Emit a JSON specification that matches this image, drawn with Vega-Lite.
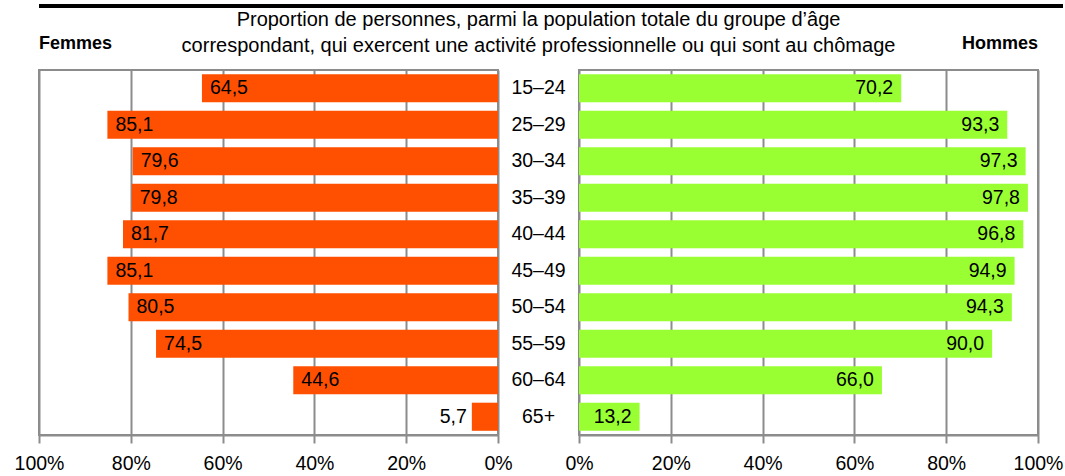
{
  "$schema": "https://vega.github.io/schema/vega-lite/v6.json",
  "padding": {"left": 13, "top": -4, "right": 0, "bottom": 0},
  "config": {
    "font": "Liberation Sans",
    "locale": {"number": {"decimal": ",", "thousands": " ", "grouping": [3], "currency": ["", ""]}},
    "view": {"stroke": "#8c8c8c", "strokeWidth": 2},
    "axisX": {
      "grid": true, "gridColor": "#8c8c8c", "gridWidth": 2, "gridOpacity": 1,
      "domainColor": "#8c8c8c", "domainWidth": 2,
      "tickColor": "#8c8c8c", "tickWidth": 2, "tickSize": 8,
      "labelFontSize": 19.5, "labelColor": "black", "labelPadding": 11,
      "labelFlush": false, "title": null
    },
    "text": {"fontSize": 19.5, "color": "black"}
  },
  "datasets": {
    "d": [
      {"age": "15–24", "femmes": 64.5, "hommes": 70.2},
      {"age": "25–29", "femmes": 85.1, "hommes": 93.3},
      {"age": "30–34", "femmes": 79.6, "hommes": 97.3},
      {"age": "35–39", "femmes": 79.8, "hommes": 97.8},
      {"age": "40–44", "femmes": 81.7, "hommes": 96.8},
      {"age": "45–49", "femmes": 85.1, "hommes": 94.9},
      {"age": "50–54", "femmes": 80.5, "hommes": 94.3},
      {"age": "55–59", "femmes": 74.5, "hommes": 90.0},
      {"age": "60–64", "femmes": 44.6, "hommes": 66.0},
      {"age": "65+", "femmes": 5.7, "hommes": 13.2}
    ]
  },
  "spacing": -6,
  "vconcat": [
    {
      "width": 1024,
      "height": 0,
      "view": {"stroke": null},
      "data": {"values": [{"line": "top"}]},
      "mark": {"type": "rule", "color": "black", "strokeWidth": 4},
      "encoding": {
        "x": {"datum": 0, "type": "quantitative", "scale": {"domain": [0, 1]}, "axis": null},
        "x2": {"datum": 1}
      }
    },
    {
      "bounds": "flush",
      "spacing": 0,
      "data": {"name": "d"},
      "hconcat": [
        {
          "width": 459,
          "height": 365,
          "title": {"text": "Femmes", "anchor": "start", "frame": "group", "fontSize": 18, "fontWeight": "bold", "offset": 17, "color": "black"},
          "encoding": {
            "y": {"field": "age", "type": "nominal", "sort": null, "axis": null, "scale": {"paddingInner": 0.23, "paddingOuter": 0.115}},
            "x": {
              "field": "femmes", "type": "quantitative",
              "scale": {"domain": [0, 100], "reverse": true, "nice": false},
              "axis": {"values": [0, 20, 40, 60, 80, 100], "labelExpr": "datum.value + '%'"}
            }
          },
          "layer": [
            {"mark": {"type": "bar", "color": "#FF4F00"}},
            {
              "transform": [{"filter": "datum.femmes >= 10"}],
              "mark": {"type": "text", "align": "left", "dx": 8, "baseline": "middle"},
              "encoding": {"text": {"field": "femmes", "type": "quantitative", "format": ".1f"}}
            },
            {
              "transform": [{"filter": "datum.femmes < 10"}],
              "mark": {"type": "text", "align": "right", "dx": -5, "baseline": "middle"},
              "encoding": {"text": {"field": "femmes", "type": "quantitative", "format": ".1f"}}
            }
          ]
        },
        {
          "width": 81,
          "height": 365,
          "view": {"stroke": null},
          "title": {
            "text": ["Proportion de personnes, parmi la population totale du groupe d’âge", "correspondant, qui exercent une activité professionnelle ou qui sont au chômage"],
            "anchor": "middle", "frame": "group", "fontSize": 20, "fontWeight": "normal",
            "lineHeight": 26, "offset": 14, "color": "black", "limit": 0
          },
          "mark": {"type": "text", "baseline": "middle", "align": "center"},
          "encoding": {
            "y": {"field": "age", "type": "nominal", "sort": null, "axis": null, "scale": {"paddingInner": 0.23, "paddingOuter": 0.115}},
            "text": {"field": "age", "type": "nominal"}
          }
        },
        {
          "width": 459,
          "height": 365,
          "title": {"text": "Hommes", "anchor": "end", "frame": "group", "fontSize": 18, "fontWeight": "bold", "offset": 17, "color": "black"},
          "encoding": {
            "y": {"field": "age", "type": "nominal", "sort": null, "axis": null, "scale": {"paddingInner": 0.23, "paddingOuter": 0.115}},
            "x": {
              "field": "hommes", "type": "quantitative",
              "scale": {"domain": [0, 100], "nice": false},
              "axis": {"values": [0, 20, 40, 60, 80, 100], "labelExpr": "datum.value + '%'"}
            }
          },
          "layer": [
            {"mark": {"type": "bar", "color": "#99FF33"}},
            {
              "mark": {"type": "text", "align": "right", "dx": -8, "baseline": "middle"},
              "encoding": {"text": {"field": "hommes", "type": "quantitative", "format": ".1f"}}
            }
          ]
        }
      ]
    }
  ]
}
